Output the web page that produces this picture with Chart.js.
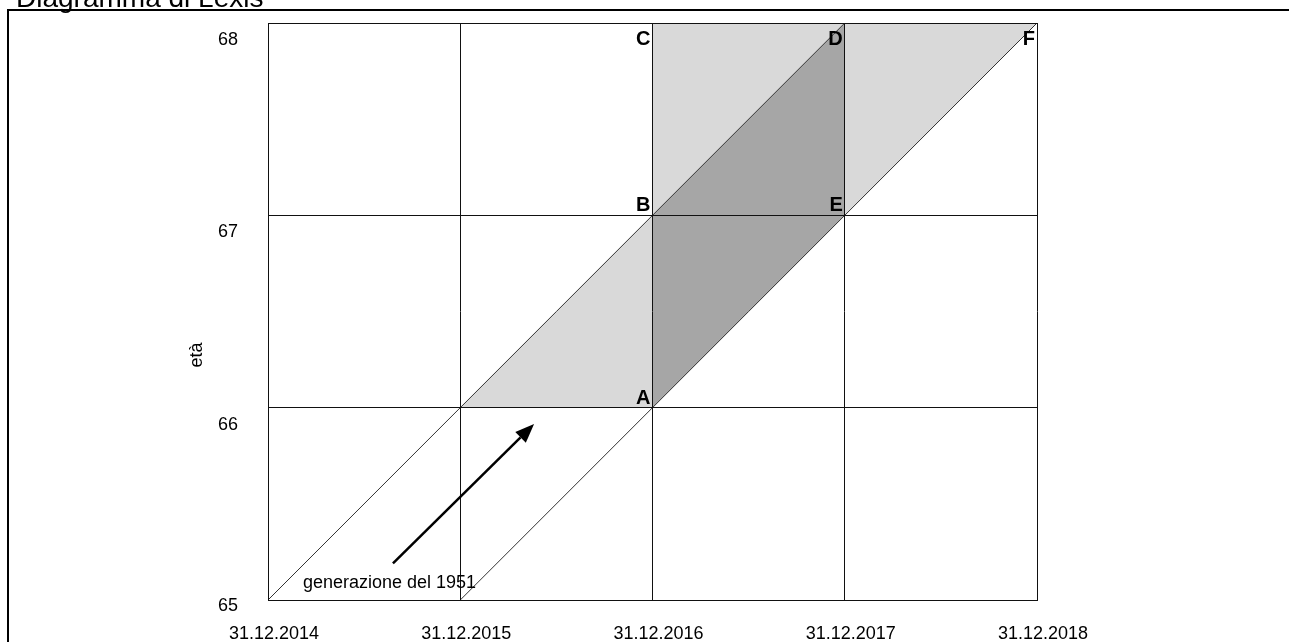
<!DOCTYPE html>
<html><head><meta charset="utf-8">
<script src="https://cdn.jsdelivr.net/npm/chart.js@4.4.1/dist/chart.umd.min.js"></script>
<style>html,body{margin:0;padding:0;background:#fff;} #wrap{width:1289px;height:642px;position:relative;}</style>
</head><body><div id="wrap"><canvas id="c"></canvas></div>
<script>
// ---- data ----
const chartTitle = 'Diagramma di Lexis';
const yAxisTitle = 'età';
const years = [2014, 2015, 2016, 2017, 2018];
const xTickLabels = ['31.12.2014', '31.12.2015', '31.12.2016', '31.12.2017', '31.12.2018'];
const ages = [65, 66, 67, 68];
const yTickLabels = ['65', '66', '67', '68'];
// life lines (cohorts)
const cohort1Years = [2014, 2017];
const cohort1Ages = [65, 68];
const cohort2Years = [2015, 2018];
const cohort2Ages = [65, 68];
// shaded areas
const triLowYears = [2015, 2016, 2016];
const triLowAges = [66, 66, 67];
const paraYears = [2016, 2017, 2017, 2016];
const paraAges = [66, 67, 68, 67];
const triMidYears = [2016, 2017, 2016];
const triMidAges = [67, 68, 68];
const triRightYears = [2017, 2018, 2017];
const triRightAges = [67, 68, 68];
// named points
const pointNames = ['A', 'B', 'C', 'D', 'E', 'F'];
const pointYears = [2016, 2016, 2016, 2017, 2017, 2018];
const pointAges = [66, 67, 68, 68, 67, 68];
// arrow and note
const arrowYears = [2014.65, 2015.384];
const arrowAges = [65.19, 65.915];
const noteText = 'generazione del 1951';
const noteYear = 2014.182;
const noteAge = 65.062;

const LIGHT = '#d9d9d9';
const DARK = '#a6a6a6';
const FONT = "'Liberation Sans', Arial, Helvetica, sans-serif";

function pts(xs, ys) { return xs.map((x, i) => ({x: x, y: ys[i]})); }

Chart.defaults.font.family = FONT;
Chart.defaults.color = '#000';

const extras = {
  id: 'extras',
  afterDraw(chart) {
    const ctx = chart.ctx;
    const xs = chart.scales.x, ys = chart.scales.y;
    ctx.save();
    // outer frame
    ctx.strokeStyle = '#000';
    ctx.lineWidth = 2;
    ctx.beginPath();
    ctx.moveTo(8, 642); ctx.lineTo(8, 10); ctx.lineTo(1289, 10);
    ctx.stroke();
    // title (clipped at top)
    ctx.fillStyle = '#000';
    ctx.font = '28px ' + FONT;
    ctx.textAlign = 'left';
    ctx.textBaseline = 'alphabetic';
    ctx.fillText(chartTitle, 16, 7);
    // y axis title
    ctx.save();
    ctx.font = '18px ' + FONT;
    ctx.translate(ys.left + 15, 355);
    ctx.rotate(-Math.PI / 2);
    ctx.textAlign = 'center';
    ctx.textBaseline = 'middle';
    ctx.fillText(yAxisTitle, 0, 0);
    ctx.restore();
    // point labels
    ctx.font = 'bold 20px ' + FONT;
    ctx.textAlign = 'right';
    ctx.textBaseline = 'alphabetic';
    const maxAge = ages[ages.length - 1];
    pointNames.forEach((n, i) => {
      const px = xs.getPixelForValue(pointYears[i]);
      const py = ys.getPixelForValue(pointAges[i]);
      if (pointAges[i] === maxAge) ctx.fillText(n, px - 2, py + 22);
      else ctx.fillText(n, px - 2, py - 4);
    });
    // note
    ctx.font = '18px ' + FONT;
    ctx.textAlign = 'left';
    ctx.fillText(noteText, xs.getPixelForValue(noteYear), ys.getPixelForValue(noteAge));
    // arrow
    const x0 = xs.getPixelForValue(arrowYears[0]), y0 = ys.getPixelForValue(arrowAges[0]);
    const x1 = xs.getPixelForValue(arrowYears[1]), y1 = ys.getPixelForValue(arrowAges[1]);
    const ang = Math.atan2(y1 - y0, x1 - x0);
    const hl = 19, hw = 7.5;
    const bx = x1 - hl * Math.cos(ang), by = y1 - hl * Math.sin(ang);
    ctx.lineWidth = 2.5;
    ctx.beginPath(); ctx.moveTo(x0, y0); ctx.lineTo(bx, by); ctx.stroke();
    ctx.beginPath();
    ctx.moveTo(x1, y1);
    ctx.lineTo(bx + hw * Math.sin(ang), by - hw * Math.cos(ang));
    ctx.lineTo(bx - hw * Math.sin(ang), by + hw * Math.cos(ang));
    ctx.closePath(); ctx.fill();
    ctx.restore();
  }
};

const lineDs = (xs, ys) => ({
  data: pts(xs, ys), showLine: true, borderColor: '#333', borderWidth: 1,
  pointRadius: 0, fill: false, tension: 0
});
const areaDs = (xs, ys, col) => ({
  data: pts(xs, ys), showLine: true, borderColor: 'rgba(0,0,0,0)', borderWidth: 0,
  backgroundColor: col, pointRadius: 0, fill: 'shape', tension: 0
});

function noPad(s) { s.paddingTop = 0; s.paddingBottom = 0; s.paddingLeft = 0; s.paddingRight = 0; }

new Chart(document.getElementById('c'), {
  type: 'scatter',
  data: {
    datasets: [
      lineDs(cohort1Years, cohort1Ages),
      lineDs(cohort2Years, cohort2Ages),
      areaDs(triLowYears, triLowAges, LIGHT),
      areaDs(paraYears, paraAges, DARK),
      areaDs(triMidYears, triMidAges, LIGHT),
      areaDs(triRightYears, triRightAges, LIGHT)
    ]
  },
  options: {
    responsive: true,
    maintainAspectRatio: false,
    animation: false,
    events: [],
    layout: {padding: {left: 182, right: 252, top: 23, bottom: 0}},
    plugins: {legend: {display: false}, tooltip: {enabled: false}, title: {display: false}},
    scales: {
      x: {
        type: 'linear', min: years[0], max: years[years.length - 1],
        afterBuildTicks: (s) => { s.ticks = years.map(v => ({value: v})); },
        afterFit: (s) => { s.height = 42; noPad(s); },
        ticks: {
          callback: (v) => xTickLabels[years.indexOf(v)],
          font: {size: 18}, color: '#000', padding: 23, labelOffset: 6,
          maxRotation: 0, autoSkip: false
        },
        grid: {color: '#111', lineWidth: 1, drawTicks: false, z: 1},
        border: {display: true, color: '#111', width: 1, z: 1}
      },
      y: {
        type: 'linear', min: ages[0], max: ages[ages.length - 1],
        afterBuildTicks: (s) => { s.ticks = ages.map(v => ({value: v})); },
        afterFit: (s) => { s.width = 86; noPad(s); },
        ticks: {
          // the lowest label sits closer to its line (kept clear of the date labels)
          callback: (v) => { const i = ages.indexOf(v); return i === 0 ? [yTickLabels[i], ''] : yTickLabels[i]; },
          font: {size: 18}, color: '#000', padding: 30, labelOffset: 17,
          autoSkip: false
        },
        title: {display: false},
        grid: {color: '#111', lineWidth: 1, drawTicks: false, z: 1},
        border: {display: true, color: '#111', width: 1, z: 1}
      }
    }
  },
  plugins: [extras]
});
</script>
</body></html>
